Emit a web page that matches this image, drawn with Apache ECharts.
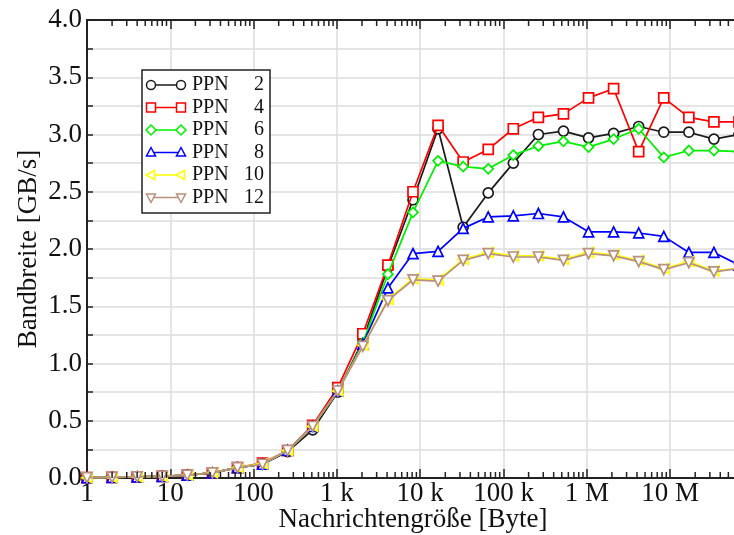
<!DOCTYPE html>
<html>
<head>
<meta charset="utf-8">
<script src="https://cdn.jsdelivr.net/npm/echarts@6/dist/echarts.min.js"></script>
<style>html,body{margin:0;padding:0;background:#fff}#c{width:734px;height:535px}</style>
</head>
<body>
<div id="c"></div>
<script>
// Message sizes in bytes (2^0 .. 2^26)
const sizes = [1,2,4,8,16,32,64,128,256,512,1024,2048,4096,8192,16384,32768,65536,131072,262144,524288,1048576,2097152,4194304,8388608,16777216,33554432,67108864];
const seriesNames = ['PPN  2','PPN  4','PPN  6','PPN  8','PPN 10','PPN 12'];
const ppn2  = [0.003,0.006,0.01,0.015,0.025,0.045,0.09,0.12,0.23,0.42,0.75,1.20,1.84,2.43,3.05,2.19,2.49,2.75,3.00,3.03,2.97,3.01,3.07,3.02,3.02,2.96,3.00];
const ppn4  = [0.003,0.006,0.01,0.015,0.025,0.045,0.09,0.13,0.24,0.46,0.79,1.26,1.86,2.50,3.08,2.76,2.87,3.05,3.15,3.18,3.32,3.40,2.85,3.32,3.15,3.11,3.11];
const ppn6  = [0.003,0.006,0.01,0.015,0.025,0.045,0.09,0.12,0.24,0.45,0.76,1.18,1.78,2.32,2.77,2.72,2.70,2.82,2.90,2.94,2.89,2.96,3.05,2.80,2.86,2.86,2.85];
const ppn8  = [0.003,0.006,0.01,0.015,0.025,0.045,0.09,0.12,0.24,0.45,0.76,1.17,1.66,1.96,1.98,2.18,2.28,2.29,2.31,2.28,2.15,2.15,2.14,2.11,1.97,1.97,1.86];
const ppn10 = [0.003,0.006,0.01,0.015,0.026,0.046,0.09,0.125,0.24,0.45,0.76,1.16,1.56,1.74,1.73,1.91,1.97,1.94,1.94,1.91,1.97,1.95,1.90,1.83,1.89,1.81,1.83];
const ppn12 = [0.003,0.006,0.01,0.015,0.025,0.045,0.09,0.12,0.24,0.45,0.76,1.15,1.55,1.73,1.72,1.90,1.96,1.93,1.93,1.90,1.96,1.94,1.89,1.82,1.88,1.80,1.83];
const xTickLabels = {0:'1',1:'10',2:'100',3:'1 k',4:'10 k',5:'100 k',6:'1 M',7:'10 M'};
const yMin = 0, yMax = 4;

const FONT = 'Liberation Serif';
const colors = ['#1a1a1a','#ff0000','#00f000','#0000ff','#ffff00','#b8907f'];
const symbols = ['circle','rect','diamond','triangle','triangle','triangle'];
const rotates = [0,0,0,0,90,180];
const allData = [ppn2,ppn4,ppn6,ppn8,ppn10,ppn12];

// minor tick positions 2..9 per decade
const minorTicks = [];
for (let d = 0; d < 8; d++) for (let m = 2; m <= 9; m++) {
  const v = m * Math.pow(10, d);
  if (v <= sizes[sizes.length-1]) minorTicks.push([v, 0]);
}

const series = allData.map((vals, i) => ({
  name: seriesNames[i],
  type: 'line',
  data: sizes.map((s, j) => [s, vals[j]]),
  symbol: symbols[i],
  symbolSize: 10,
  symbolRotate: rotates[i],
  showAllSymbol: true,
  lineStyle: {color: colors[i], width: 1.7},
  itemStyle: {color: '#fff', borderColor: colors[i], borderWidth: 1.7},
  z: 3 + i,
  animation: false,
  clip: false
}));

series.push({
  type: 'custom',
  data: minorTicks,
  silent: true,
  animation: false,
  clip: false,
  z: 10,
  renderItem: function (params, api) {
    const b = api.coord([api.value(0), yMin]);
    const t = api.coord([api.value(0), yMax]);
    return {type: 'group', children: [
      {type: 'line', shape: {x1: b[0], y1: b[1], x2: b[0], y2: b[1] - 6}, style: {stroke: '#222', lineWidth: 1.5}},
      {type: 'line', shape: {x1: t[0], y1: t[1], x2: t[0], y2: t[1] + 6}, style: {stroke: '#222', lineWidth: 1.5}}
    ]};
  }
});

// legend via graphic
const lg = [];
lg.push({type: 'rect', shape: {x: 142, y: 70, width: 128, height: 143}, style: {fill: '#fff', stroke: '#222', lineWidth: 1.5}, z: 100});
function mk(shape, cx, cy, col) {
  const r = 4.5;
  if (shape === 'circle') return {type: 'circle', shape: {cx: cx, cy: cy, r: r}, style: {fill: '#fff', stroke: col, lineWidth: 1.5}, z: 102};
  if (shape === 'rect') return {type: 'rect', shape: {x: cx - r, y: cy - r, width: 2*r, height: 2*r}, style: {fill: '#fff', stroke: col, lineWidth: 1.5}, z: 102};
  if (shape === 'diamond') return {type: 'polygon', shape: {points: [[cx, cy-r-0.5],[cx+r+0.5, cy],[cx, cy+r+0.5],[cx-r-0.5, cy]]}, style: {fill: '#fff', stroke: col, lineWidth: 1.5}, z: 102};
  if (shape === 'up') return {type: 'polygon', shape: {points: [[cx, cy-r-0.5],[cx+r, cy+r-1],[cx-r, cy+r-1]]}, style: {fill: '#fff', stroke: col, lineWidth: 1.5}, z: 102};
  if (shape === 'left') return {type: 'polygon', shape: {points: [[cx-r-0.5, cy],[cx+r-1, cy-r],[cx+r-1, cy+r]]}, style: {fill: '#fff', stroke: col, lineWidth: 1.5}, z: 102};
  return {type: 'polygon', shape: {points: [[cx, cy+r+0.5],[cx+r, cy-r+1],[cx-r, cy-r+1]]}, style: {fill: '#fff', stroke: col, lineWidth: 1.5}, z: 102};
}
const lgShapes = ['circle','rect','diamond','up','left','down'];
const lgNums = ['2','4','6','8','10','12'];
for (let i = 0; i < 6; i++) {
  const cy = 85 + i * 22.5;
  lg.push({type: 'line', shape: {x1: 151, y1: cy, x2: 181, y2: cy}, style: {stroke: colors[i], lineWidth: 1.5}, z: 101});
  lg.push(mk(lgShapes[i], 151, cy, colors[i]));
  lg.push(mk(lgShapes[i], 181, cy, colors[i]));
  lg.push({type: 'text', x: 192, y: cy, style: {text: 'PPN', font: '20px "' + FONT + '"', fill: '#111', verticalAlign: 'middle', align: 'left'}, z: 102});
  lg.push({type: 'text', x: 264, y: cy, style: {text: lgNums[i], font: '20px "' + FONT + '"', fill: '#111', verticalAlign: 'middle', align: 'right'}, z: 102});
}

const xCommon = {
  type: 'log', logBase: 10, min: 1, max: sizes[sizes.length-1], splitNumber: 8,
  axisLine: {show: true, lineStyle: {color: '#222', width: 2}},
  axisTick: {show: true, inside: true, length: 9, lineStyle: {color: '#222', width: 1.5}},
  minorTick: {show: false}
};

const chart = echarts.init(document.getElementById('c'), null, {renderer: 'canvas'});
chart.setOption({
  animation: false,
  backgroundColor: '#fff',
  grid: {left: 87, top: 20, bottom: 57, right: -5, containLabel: false, outerBoundsMode: 'none'},
  xAxis: [
    Object.assign({}, xCommon, {
      position: 'bottom',
      name: 'Nachrichtengröße [Byte]', nameLocation: 'middle', nameGap: 28, nameMoveOverlap: false,
      nameTextStyle: {fontFamily: FONT, fontSize: 27, color: '#111'},
      splitLine: {show: true, lineStyle: {color: '#dcdcdc', width: 1.5}},
      axisLabel: {fontFamily: FONT, fontSize: 27, color: '#111', margin: 2, showMaxLabel: false,
        formatter: function (v) { const e = Math.round(Math.log10(v)); return (Math.abs(Math.pow(10, e) - v) < 1e-6 * v && xTickLabels[e] !== undefined) ? xTickLabels[e] : ''; }}
    }),
    Object.assign({}, xCommon, {position: 'top', axisLabel: {show: false}, splitLine: {show: false}})
  ],
  yAxis: {
    type: 'value', min: yMin, max: yMax, interval: 0.25,
    name: 'Bandbreite [GB/s]', nameLocation: 'middle', nameGap: 45, nameMoveOverlap: false,
    nameTextStyle: {fontFamily: FONT, fontSize: 27, color: '#111'},
    axisLine: {show: true, lineStyle: {color: '#222', width: 2}},
    axisTick: {show: true, inside: true, length: 6, lineStyle: {color: '#222', width: 1.5}},
    splitLine: {show: true, lineStyle: {color: '#dcdcdc', width: 1.5}},
    axisLabel: {fontFamily: FONT, fontSize: 27, color: '#111', margin: 5,
      formatter: function (v) { return (Math.abs(v * 2 - Math.round(v * 2)) < 1e-9) ? v.toFixed(1) : ''; }}
  },
  graphic: lg,
  series: series
});
</script>
</body>
</html>
